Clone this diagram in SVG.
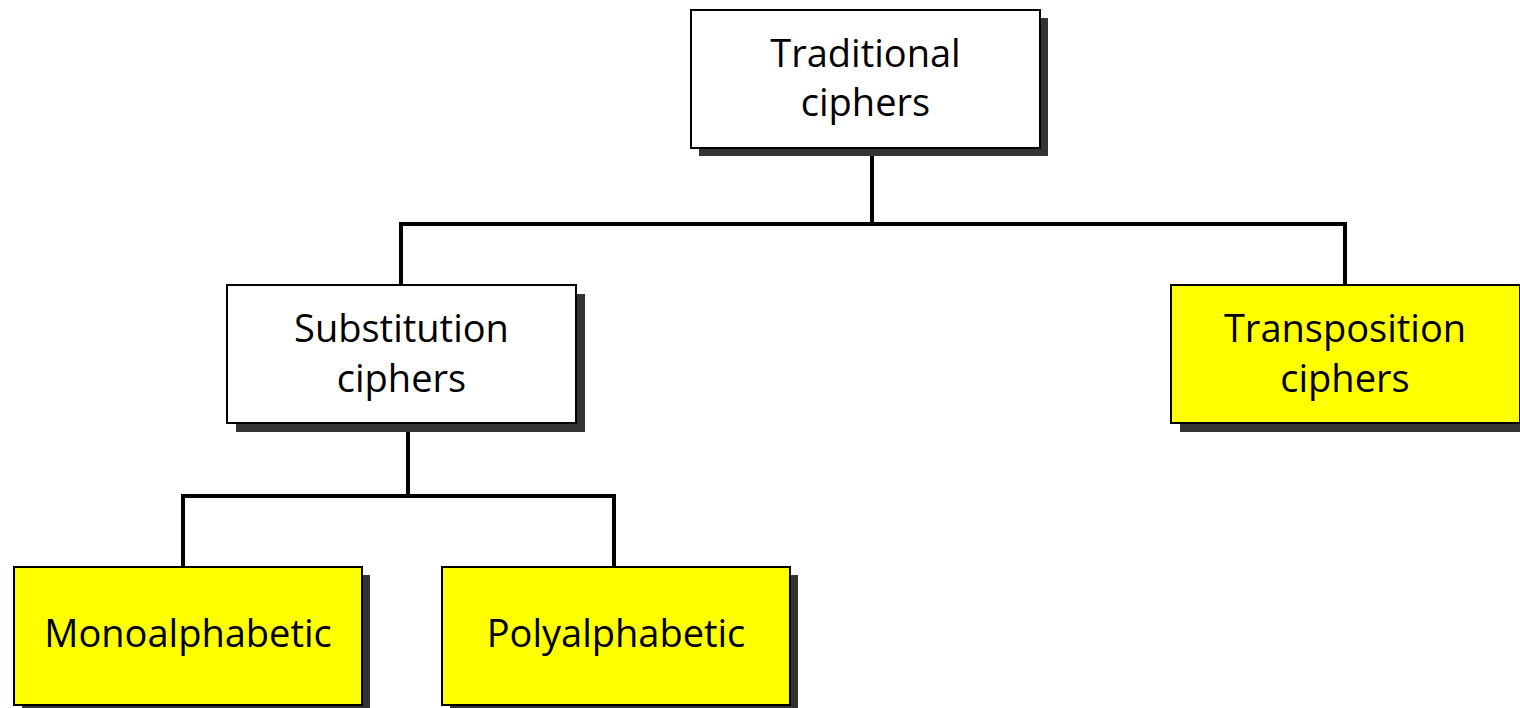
<svg xmlns="http://www.w3.org/2000/svg" width="1520" height="708" viewBox="0 0 1520 708">
<style>
.box{stroke:#000;stroke-width:2}
.w{fill:#fff}
.y{fill:#ffff00}
.sh{fill:#333}
.t{font-family:"Open Sans","Noto Sans",sans-serif;font-size:38px;fill:#000;text-anchor:middle}
.c{fill:none;stroke:#000;stroke-width:4}
</style>
<rect width="1520" height="708" fill="#fff"/>
<g id="connectors">
<polyline class="c" points="872,148 872,224"/>
<polyline class="c" points="401,285 401,224 1345,224 1345,285"/>
<polyline class="c" points="408,423 408,496"/>
<polyline class="c" points="183,567 183,496 614,496 614,567"/>
</g>
<g id="traditional">
<rect class="sh" x="699" y="18" width="349" height="138"/>
<rect class="box w" x="691" y="10" width="349" height="138"/>
<text class="t" x="865.5" y="67">Traditional</text>
<text class="t" x="865.5" y="116">ciphers</text>
</g>
<g id="substitution">
<rect class="sh" x="236" y="294" width="349" height="138"/>
<rect class="box w" x="227" y="285" width="349" height="138"/>
<text class="t" x="401.5" y="342">Substitution</text>
<text class="t" x="401.5" y="392">ciphers</text>
</g>
<g id="transposition">
<rect class="sh" x="1180" y="294" width="349" height="138"/>
<rect class="box y" x="1171" y="285" width="349" height="138"/>
<text class="t" x="1345" y="342">Transposition</text>
<text class="t" x="1345" y="392">ciphers</text>
</g>
<g id="monoalphabetic">
<rect class="sh" x="22" y="575" width="348" height="138"/>
<rect class="box y" x="14" y="567" width="348" height="138"/>
<text class="t" x="188" y="647">Monoalphabetic</text>
</g>
<g id="polyalphabetic">
<rect class="sh" x="450" y="575" width="348" height="138"/>
<rect class="box y" x="442" y="567" width="348" height="138"/>
<text class="t" x="616" y="647">Polyalphabetic</text>
</g>
</svg>
